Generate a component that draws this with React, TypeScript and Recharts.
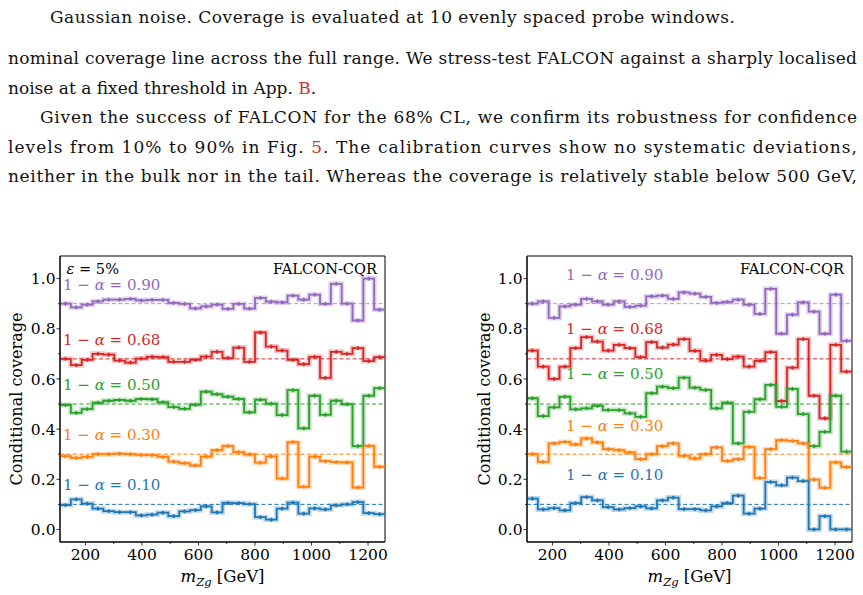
import React from "react";
import {
  ComposedChart,
  Line,
  Scatter,
  XAxis,
  YAxis,
  ReferenceLine,
  ReferenceArea,
} from "recharts";

// bin edges in m_Zg (GeV), 30 bins
const binEdges = [
  110, 148.3, 186.7, 225, 263.3, 301.7, 340, 378.3, 416.7, 455, 493.3, 531.7,
  570, 608.3, 646.7, 685, 723.3, 761.7, 800, 838.3, 876.7, 915, 953.3, 991.7,
  1030, 1068.3, 1106.7, 1145, 1183.3, 1221.7, 1260,
];

const xTicks = [200, 300, 400, 500, 600, 700, 800, 900, 1000, 1100, 1200];
const xMajor = [200, 400, 600, 800, 1000, 1200];
const yTicks = [0, 0.1, 0.2, 0.3, 0.4, 0.5, 0.6, 0.7, 0.8, 0.9, 1.0];
const yMajor = [0, 0.2, 0.4, 0.6, 0.8, 1.0];

const levels = [0.9, 0.68, 0.5, 0.3, 0.1];
const levelLabels = ["0.90", "0.68", "0.50", "0.30", "0.10"];
const levelColors = ["#9467bd", "#d62728", "#2ca02c", "#ff7f0e", "#1f77b4"];

// left panel (eps = 5%)
const leftPurple = [0.900, 0.885, 0.896, 0.909, 0.916, 0.916, 0.919, 0.913, 0.915, 0.915, 0.903, 0.899, 0.881, 0.889, 0.896, 0.879, 0.899, 0.880, 0.923, 0.908, 0.905, 0.932, 0.916, 0.936, 0.899, 0.979, 0.900, 0.833, 1.000, 0.876];
const leftRed = [0.680, 0.655, 0.676, 0.700, 0.697, 0.673, 0.665, 0.681, 0.688, 0.687, 0.668, 0.668, 0.676, 0.689, 0.708, 0.683, 0.725, 0.668, 0.785, 0.729, 0.713, 0.676, 0.659, 0.688, 0.604, 0.708, 0.700, 0.723, 0.671, 0.687];
const leftGreen = [0.496, 0.465, 0.480, 0.505, 0.513, 0.516, 0.513, 0.520, 0.519, 0.507, 0.488, 0.481, 0.497, 0.549, 0.539, 0.529, 0.520, 0.467, 0.517, 0.501, 0.456, 0.555, 0.403, 0.533, 0.457, 0.513, 0.499, 0.332, 0.533, 0.563];
const leftOrange = [0.292, 0.285, 0.289, 0.300, 0.300, 0.302, 0.300, 0.297, 0.296, 0.289, 0.270, 0.264, 0.255, 0.290, 0.316, 0.333, 0.308, 0.299, 0.266, 0.291, 0.203, 0.348, 0.170, 0.290, 0.272, 0.268, 0.267, 0.167, 0.333, 0.250];
const leftBlue = [0.097, 0.120, 0.103, 0.083, 0.073, 0.069, 0.069, 0.056, 0.059, 0.067, 0.053, 0.072, 0.077, 0.092, 0.068, 0.106, 0.105, 0.101, 0.049, 0.039, 0.083, 0.107, 0.063, 0.084, 0.080, 0.096, 0.100, 0.109, 0.065, 0.061];

// right panel
const rightPurple = [0.900, 0.909, 0.843, 0.889, 0.896, 0.919, 0.909, 0.896, 0.909, 0.887, 0.892, 0.929, 0.932, 0.919, 0.945, 0.940, 0.927, 0.903, 0.907, 0.916, 0.896, 0.859, 0.959, 0.780, 0.856, 0.905, 0.868, 0.780, 0.936, 0.752];
const rightRed = [0.713, 0.649, 0.600, 0.649, 0.723, 0.767, 0.749, 0.713, 0.736, 0.723, 0.687, 0.747, 0.725, 0.737, 0.759, 0.712, 0.673, 0.696, 0.679, 0.689, 0.649, 0.672, 0.707, 0.512, 0.645, 0.759, 0.533, 0.443, 0.736, 0.629];
const rightGreen = [0.523, 0.452, 0.487, 0.529, 0.479, 0.483, 0.493, 0.476, 0.476, 0.463, 0.449, 0.543, 0.569, 0.563, 0.605, 0.565, 0.556, 0.483, 0.505, 0.343, 0.469, 0.519, 0.576, 0.489, 0.560, 0.460, 0.332, 0.389, 0.533, 0.310];
const rightOrange = [0.300, 0.269, 0.343, 0.349, 0.339, 0.363, 0.347, 0.320, 0.316, 0.307, 0.280, 0.300, 0.332, 0.343, 0.293, 0.283, 0.300, 0.327, 0.273, 0.280, 0.329, 0.205, 0.320, 0.356, 0.353, 0.343, 0.199, 0.166, 0.267, 0.249];
const rightBlue = [0.123, 0.080, 0.085, 0.076, 0.105, 0.129, 0.116, 0.089, 0.080, 0.085, 0.092, 0.084, 0.116, 0.127, 0.081, 0.081, 0.076, 0.092, 0.105, 0.135, 0.063, 0.083, 0.189, 0.176, 0.207, 0.193, 0.000, 0.053, 0.000, 0.000];

const SERIF = "'DejaVu Serif', serif";
const keys = ["p", "r", "g", "o", "b"];

function stepRows(series: number[][]) {
  return binEdges.map((x, i) => {
    const row: Record<string, number> = { x };
    series.forEach((vals, k) => {
      row[keys[k]] = vals[Math.min(i, vals.length - 1)];
    });
    return row;
  });
}

function centers(vals: number[]) {
  return vals.map((y, i) => ({ x: (binEdges[i] + binEdges[i + 1]) / 2, y }));
}

const XTick = (props: any) => {
  const { x, y, payload } = props;
  const major = xMajor.includes(payload.value);
  return (
    <g>
      <line x1={x} x2={x} y1={y} y2={y + (major ? 3.5 : 2)} stroke="#000" strokeWidth={0.8} />
      {major && (
        <text x={x} y={y + 18} textAnchor="middle" fontFamily={SERIF} fontSize={15.5} fill="#000">
          {payload.value}
        </text>
      )}
    </g>
  );
};

const YTick = (props: any) => {
  const { x, y, payload } = props;
  const v = payload.value;
  const major = yMajor.some((m) => Math.abs(m - v) < 1e-6);
  return (
    <g>
      <line x1={x} x2={x - (major ? 3.5 : 2)} y1={y} y2={y} stroke="#000" strokeWidth={0.8} />
      {major && (
        <text x={x - 4.5} y={y + 5.6} textAnchor="end" fontFamily={SERIF} fontSize={15.5} fill="#000">
          {v.toFixed(1)}
        </text>
      )}
    </g>
  );
};

const marker = (color: string) => (p: any) => (
  <g>
    <line x1={p.cx} x2={p.cx} y1={p.cy - 2} y2={p.cy + 2} stroke={color} strokeWidth={1} />
    <circle cx={p.cx} cy={p.cy} r={1.6} fill={color} />
  </g>
);

function Panel({ series, width }: { series: number[][]; width: number }) {
  const rows = stepRows(series);
  return (
    <ComposedChart
      width={width}
      height={345}
      data={rows}
      margin={{ top: 6, right: width - 385, bottom: 52, left: 59 }}
    >
      <XAxis
        dataKey="x"
        type="number"
        domain={[110, 1260]}
        ticks={xTicks}
        interval={0}
        allowDataOverflow
        height={1}
        tickSize={0}
        tickMargin={0}
        tickLine={false}
        axisLine={{ stroke: "#000" }}
        tick={XTick}
      />
      <YAxis
        type="number"
        domain={[-0.05, 1.09]}
        ticks={yTicks}
        interval={0}
        allowDataOverflow
        width={1}
        tickSize={0}
        tickMargin={0}
        tickLine={false}
        axisLine={{ stroke: "#000" }}
        tick={YTick}
      />
      <ReferenceArea x1={110} x2={1260} y1={-0.05} y2={1.09} fill="none" stroke="#000" strokeWidth={1} />
      {levels.map((lv, k) => (
        <ReferenceLine
          key={"n" + k}
          y={lv}
          stroke={levelColors[k]}
          strokeOpacity={k === 0 ? 0.7 : 1}
          strokeDasharray="4 2.5"
          strokeWidth={1}
        />
      ))}
      {keys.map((key, k) => (
        <Line
          key={"h" + key}
          dataKey={key}
          type="stepAfter"
          stroke={levelColors[k]}
          strokeOpacity={0.28}
          strokeWidth={5}
          dot={false}
          activeDot={false}
          isAnimationActive={false}
        />
      ))}
      {keys.map((key, k) => (
        <Line
          key={"l" + key}
          dataKey={key}
          type="stepAfter"
          stroke={levelColors[k]}
          strokeWidth={1.8}
          dot={false}
          activeDot={false}
          isAnimationActive={false}
        />
      ))}
      {series.map((vals, k) => (
        <Scatter
          key={"m" + k}
          data={centers(vals)}
          dataKey="y"
          fill={levelColors[k]}
          shape={marker(levelColors[k])}
          isAnimationActive={false}
        />
      ))}
    </ComposedChart>
  );
}

function AlphaLabel({ x, y, k }: { x: number; y: number; k: number }) {
  return (
    <text x={x} y={y} fontFamily={SERIF} fontSize={15} fill={levelColors[k]}>
      1 − <tspan fontStyle="italic">α</tspan> = {levelLabels[k]}
    </text>
  );
}

function XLabel({ cx }: { cx: number }) {
  return (
    <text x={cx} y={582} textAnchor="middle" fontFamily={SERIF} fontSize={16.5} fill="#000">
      <tspan fontStyle="italic">m</tspan>
      <tspan fontStyle="italic" fontSize={11.5} dy={4}>Zg</tspan>
      <tspan dy={-4}> [GeV]</tspan>
    </text>
  );
}

const leftLabelY = [290, 345, 390, 440, 490];
const rightLabelY = [280, 334, 379, 431, 480];

export default function App() {
  const red = "#c83737";
  return (
    <div style={{ position: "absolute", left: 0, top: 0, width: 863, height: 595, background: "#fff", overflow: "hidden" }}>
      <div style={{ position: "absolute", left: 0, top: 250 }}>
        <Panel series={[leftPurple, leftRed, leftGreen, leftOrange, leftBlue]} width={400} />
      </div>
      <div style={{ position: "absolute", left: 467, top: 250 }}>
        <Panel series={[rightPurple, rightRed, rightGreen, rightOrange, rightBlue]} width={396} />
      </div>
      <svg width={863} height={595} style={{ position: "absolute", left: 0, top: 0, pointerEvents: "none" }}>
        <g fontFamily={SERIF} fontSize={17} fill="#111">
          <text x={50} y={23} textLength={685} lengthAdjust="spacing">
            Gaussian noise. Coverage is evaluated at 10 evenly spaced probe windows.
          </text>
          <text x={8} y={64} textLength={849} lengthAdjust="spacing">
            nominal coverage line across the full range. We stress-test FALCON against a sharply localised
          </text>
          <text x={8} y={93.5}>
            noise at a fixed threshold in App. <tspan fill={red}>B</tspan>.
          </text>
          <text x={40} y={123} textLength={817} lengthAdjust="spacing">
            Given the success of FALCON for the 68% CL, we confirm its robustness for confidence
          </text>
          <text x={8} y={152.5} textLength={849} lengthAdjust="spacing">
            levels from 10% to 90% in Fig. <tspan fill={red}>5</tspan>.  The calibration curves show no systematic deviations,
          </text>
          <text x={8} y={182} textLength={849} lengthAdjust="spacing">
            neither in the bulk nor in the tail. Whereas the coverage is relatively stable below 500 GeV,
          </text>
        </g>

        {/* left panel texts */}
        <text x={66.5} y={273.5} fontFamily={SERIF} fontSize={14.6} fill="#000">
          <tspan fontStyle="italic">ε</tspan> = 5%
        </text>
        <text x={377} y={273.5} textAnchor="end" fontFamily={SERIF} fontSize={14.6} fill="#000">
          FALCON-CQR
        </text>
        {leftLabelY.map((y, k) => (
          <AlphaLabel key={"la" + k} x={63} y={y} k={k} />
        ))}
        <text x={22} y={399} transform="rotate(-90 22 399)" textAnchor="middle" fontFamily={SERIF} fontSize={16} fill="#000">
          Conditional coverage
        </text>
        <XLabel cx={222.5} />

        {/* right panel texts */}
        <text x={844} y={273.5} textAnchor="end" fontFamily={SERIF} fontSize={14.6} fill="#000">
          FALCON-CQR
        </text>
        {rightLabelY.map((y, k) => (
          <AlphaLabel key={"ra" + k} x={566} y={y} k={k} />
        ))}
        <text x={490} y={399} transform="rotate(-90 490 399)" textAnchor="middle" fontFamily={SERIF} fontSize={16} fill="#000">
          Conditional coverage
        </text>
        <XLabel cx={689.5} />
      </svg>
    </div>
  );
}
